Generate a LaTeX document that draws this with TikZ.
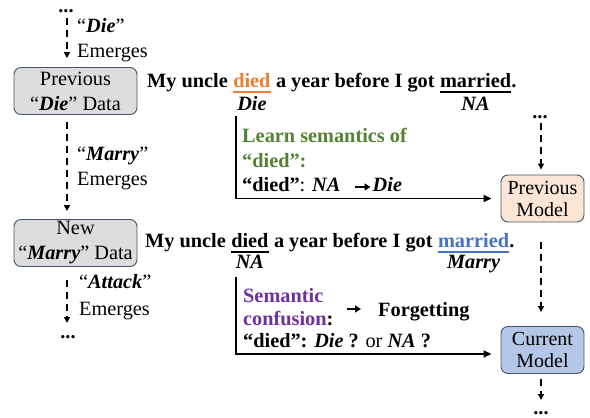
\documentclass[tikz,border=0pt]{standalone}
\usepackage{fontspec}
\setmainfont{Liberation Serif}
\usepackage{xcolor}
\usetikzlibrary{arrows.meta}

\definecolor{boxline}{HTML}{44546A}
\definecolor{datagray}{HTML}{DDDDDD}
\definecolor{prevfill}{HTML}{FBE5D6}
\definecolor{curfill}{HTML}{B4C7E7}
\definecolor{dieorange}{HTML}{ED7D31}
\definecolor{marryblue}{HTML}{4472C4}
\definecolor{learngreen}{HTML}{548235}
\definecolor{confpurple}{HTML}{7030A0}

\newcommand{\bi}[1]{\textbf{\textit{#1}}}

\tikzset{
  databox/.style={draw=boxline, fill=datagray, rounded corners=7pt, line width=0.9pt,
    minimum width=123pt, minimum height=47pt, align=center, inner sep=2pt},
  modelbox/.style={databox, minimum width=83pt, font=\fontsize{20}{22}\selectfont},
  word/.style={anchor=base west, inner sep=0pt, font=\bfseries},
  tag/.style={anchor=base, inner sep=0pt, font=\bfseries\itshape},
  note/.style={anchor=base west, inner sep=0pt, align=left},
  dots/.style={anchor=base, inner sep=0pt, text height=4pt, text depth=0pt, font=\bfseries},
  dasharr/.style={-{Triangle[length=6pt,width=6pt]}, line width=1.8pt, dash pattern=on 7pt off 5pt},
  flowarr/.style={-{Triangle[length=8pt,width=7pt]}, line width=1.8pt},
  smallarr/.style={-{Triangle[length=6pt,width=7pt]}, line width=2pt}
}

\begin{document}
\fontsize{20.3}{25}\selectfont
\begin{tikzpicture}[x=1pt, y=-1pt]
    \useasboundingbox (0,0) rectangle (590,418);

    % left column: data that emerges
    \coordinate (lane) at (67,18);
    \node[dots] (topdots) at (66,12) {...};
    \node[databox] (prevdata) at (75.5,91) {Previous\\“\bi{Die}” Data};
    \node[databox] (newdata) at (75.5,243) {New\\“\bi{Marry}” Data};
    \node[dots] (botdots) at (68,338) {...};
    \coordinate (laneend) at (67,323);

    \draw[dasharr, shorten >=9pt] (lane) -- (lane |- prevdata.north);
    \draw[dasharr, shorten <=7pt, shorten >=8pt] (prevdata.south -| lane) -- (newdata.north -| lane);
    \draw[dasharr, shorten <=13pt] (newdata.south -| lane) -- (laneend);

    % (base of a two-line note = its last line)
    \node[note] (dielab) at (77,57) {“\bi{Die}”\\Emerges};
    \node[note] (marrylab) at (77,185) {“\bi{Marry}”\\Emerges};
    \node[note] (attacklab) at (79,315) {“\bi{Attack}”\\[2pt]Emerges};

    % sentence 1
    \node[word] (s1a) at (147,87) {My uncle\ \null};
    \node[word, text=dieorange] (died1) at (s1a.base east) {died};
    \node[word] (s1b) at (died1.base east) {\ a year before I got\ \null};
    \node[word] (married1) at (s1b.base east) {married};
    \node[word] (s1c) at (married1.base east) {.};
    \draw[dieorange, line width=1.5pt] ([yshift=-5pt]died1.base west) -- ([yshift=-5pt]died1.base east);
    \draw[line width=1.5pt] ([yshift=-5pt]married1.base west) -- ([yshift=-5pt]married1.base east);
    \node[tag] (dietag1) at ([yshift=-23pt]died1.base) {Die};
    \node[tag] (natag1) at ([yshift=-23pt]married1.base) {NA};

    % sentence 2
    \node[word] (s2a) at (145,247) {My uncle\ \null};
    \node[word] (died2) at (s2a.base east) {died};
    \node[word] (s2b) at (died2.base east) {\ a year before I got\ \null};
    \node[word, text=marryblue] (married2) at (s2b.base east) {married};
    \node[word] (s2c) at (married2.base east) {.};
    \draw[line width=1.5pt] ([yshift=-5pt]died2.base west) -- ([yshift=-5pt]died2.base east);
    \draw[marryblue, line width=1.5pt] ([yshift=-5pt]married2.base west) -- ([yshift=-5pt]married2.base east);
    \node[tag] (natag2) at ([yshift=-21pt]died2.base) {NA};
    \node[tag] (marrytag2) at ([yshift=-21pt]married2.base) {Marry};

    % right column: models
    \node[modelbox, fill=prevfill] (prevmodel) at (542.5,198.5) {Previous\\Model};
    \node[modelbox, fill=curfill] (curmodel) at (542.5,350) {Current\\Model};
    \node[dots] (rtopdots) at (540,118) {...};
    \node[dots] (rbotdots) at (541,414) {...};
    \coordinate (rlane) at (541,123);
    \coordinate (rlaneend) at (541,400);

    \draw[dasharr, shorten >=5pt] (rlane) -- (rlane |- prevmodel.north);
    \draw[dasharr, shorten <=20pt, shorten >=14pt] (prevmodel.south -| rlane) -- (curmodel.north -| rlane);
    \draw[dasharr, shorten <=5pt] (curmodel.south -| rlane) -- (rlaneend);

    % learning step
    \coordinate (learntop) at (236,116);
    \draw[flowarr, shorten >=9pt] (learntop) |- (prevmodel.west);
    \node[note, font=\bfseries, text=learngreen] (learn) at (242,167) {Learn semantics of\\“died”:};
    \node[note] (rule1) at (242,191) {\textbf{“died”}: \bi{NA}};
    \node[note] (rule1die) at ([xshift=32pt]rule1.base east) {\bi{Die}};
    \draw[smallarr] ([xshift=14pt, yshift=4pt]rule1.base east) -- ([xshift=-2pt, yshift=4pt]rule1die.base west);

    % confusion step
    \coordinate (conftop) at (236,277);
    \draw[flowarr, shorten >=9pt] (conftop) |- ([yshift=-4pt]curmodel.west);
    \node[note, font=\bfseries] (conf) at (243,325) {\textcolor{confpurple}{Semantic}\\[-2pt]\textcolor{confpurple}{confusion}:};
    \node[note] (rule2) at (243,347) {\textbf{“died”: \textit{Die} ?} or \bi{NA} \textbf{?}};
    \node[word] (forget) at (378,316) {Forgetting};
    \draw[smallarr] ([xshift=-31pt, yshift=7pt]forget.base west) -- ([xshift=-17pt, yshift=7pt]forget.base west);
\end{tikzpicture}
\end{document}
